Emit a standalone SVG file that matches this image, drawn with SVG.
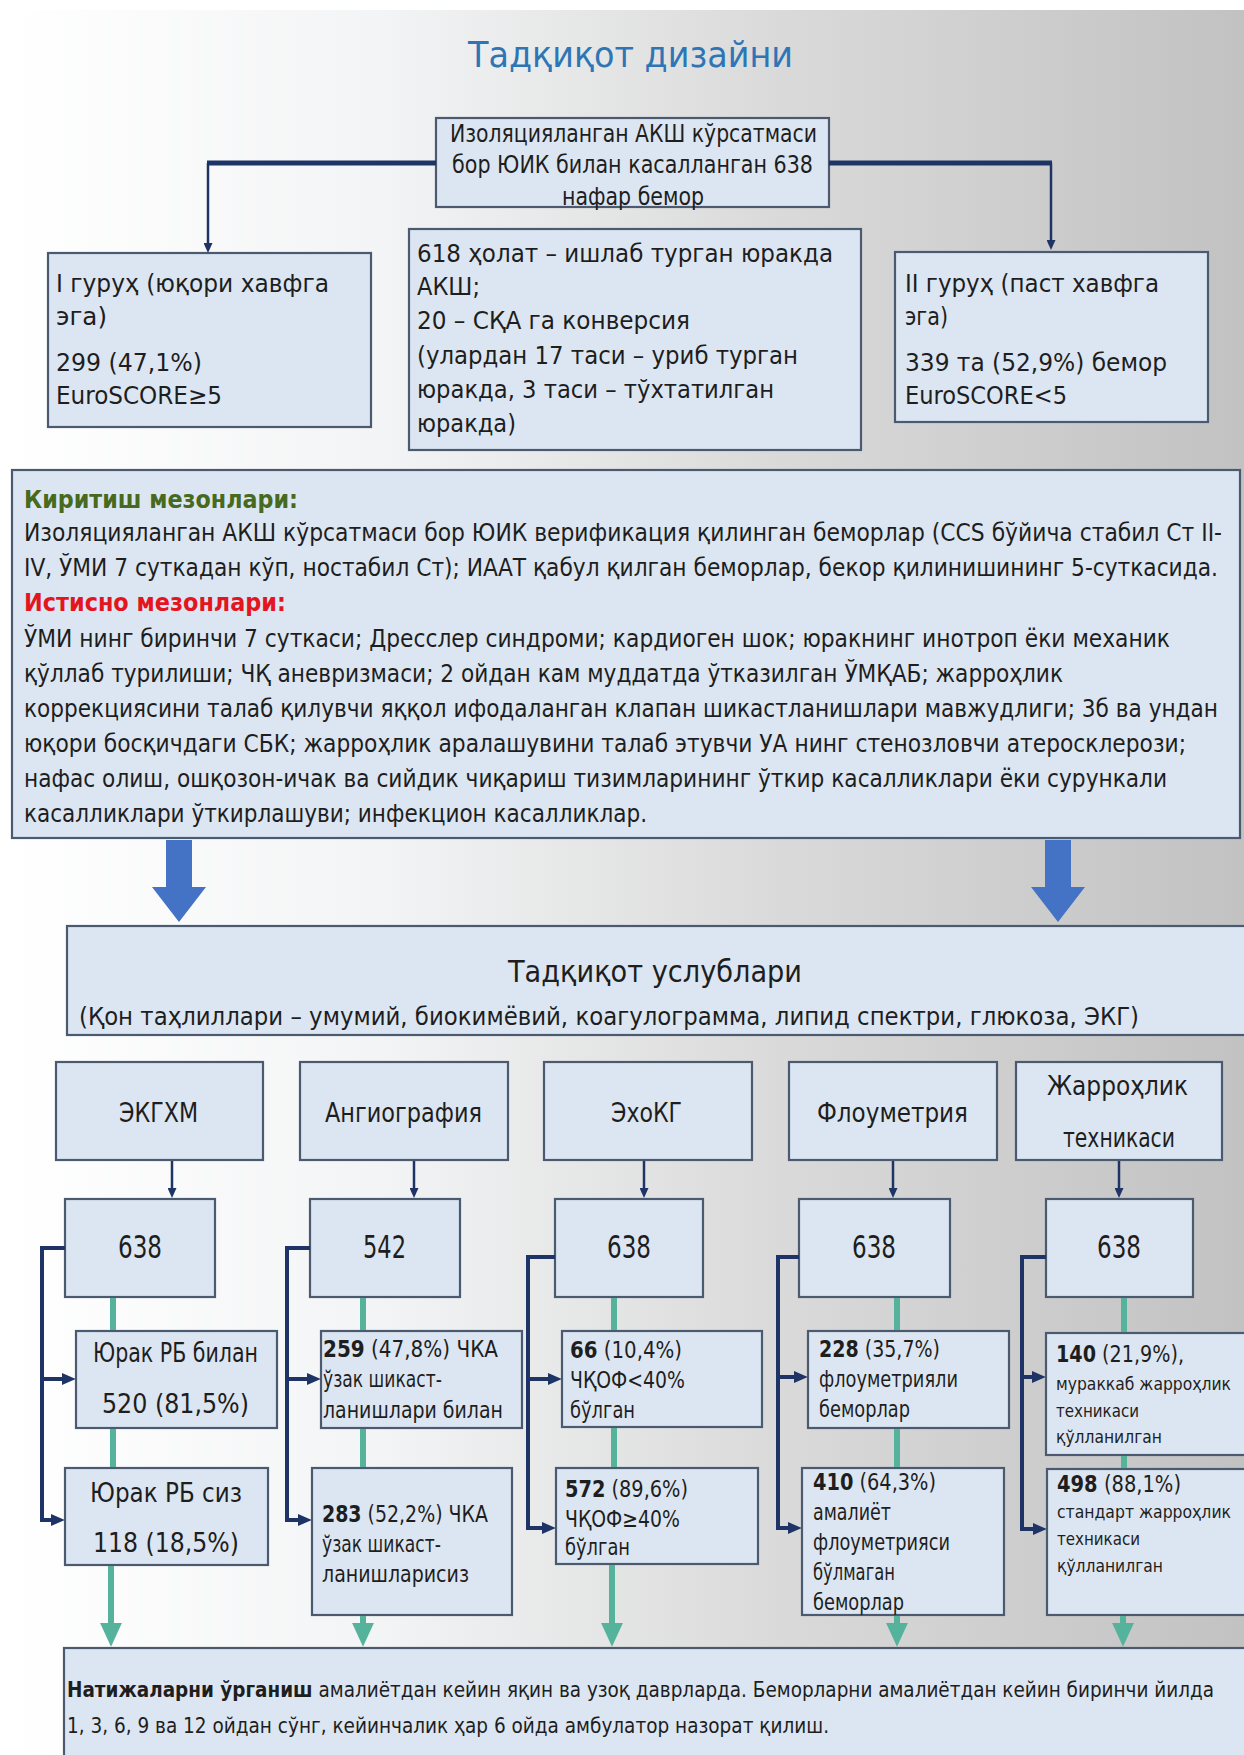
<svg xmlns="http://www.w3.org/2000/svg" width="1244" height="1755" viewBox="0 0 1244 1755">
<defs>
<linearGradient id="bg" x1="0" y1="0" x2="1" y2="0">
<stop offset="0" stop-color="#ffffff"/>
<stop offset="0.3" stop-color="#f3f4f5"/>
<stop offset="0.62" stop-color="#dadada"/>
<stop offset="1" stop-color="#c2c2c2"/>
</linearGradient>
<marker id="nv" viewBox="0 0 10 10" refX="3" refY="5" markerWidth="14" markerHeight="12" markerUnits="userSpaceOnUse" orient="auto" preserveAspectRatio="none"><path d="M0,0 L10,5 L0,10 z" fill="#1f3466"/></marker>
<marker id="ns" viewBox="0 0 10 10" refX="3" refY="5" markerWidth="10" markerHeight="9" markerUnits="userSpaceOnUse" orient="auto" preserveAspectRatio="none"><path d="M0,0 L10,5 L0,10 z" fill="#1f3466"/></marker>
<marker id="tl" viewBox="0 0 10 10" refX="3" refY="5" markerWidth="24" markerHeight="22" markerUnits="userSpaceOnUse" orient="auto" preserveAspectRatio="none"><path d="M0,0 L10,5 L0,10 z" fill="#55b39c"/></marker>
<style>
text{font-family:"DejaVu Sans Condensed","DejaVu Sans","Liberation Sans",sans-serif;fill:#1e1e1e;}
.box{fill:#dce6f2;stroke:#4b5a70;stroke-width:2.2;}
.t24{font-size:24px;}
.t23{font-size:23px;}
.t22{font-size:22px;}
.t21{font-size:21px;}
.t26{font-size:26px;}
.t18{font-size:18px;}
.num{font-size:32px;}
.b{font-weight:bold;}
.navy{fill:none;stroke:#1f3466;stroke-width:4;}
.navyT{fill:none;stroke:#1f3466;stroke-width:2.5;}
.teal{fill:none;stroke:#55b39c;stroke-width:6;}
.blue{fill:#4472c4;}
</style>
</defs>
<rect x="0" y="0" width="1244" height="1755" fill="#ffffff"/>
<rect x="8" y="10" width="1236" height="1745" fill="url(#bg)"/>

<g id="title">
<text x="468" y="67" textLength="325" lengthAdjust="spacingAndGlyphs" style="font-size:36px;fill:#2e75b6;">Тадқиқот дизайни</text>
</g>

<g id="node-patients">
<rect class="box" x="436" y="118" width="393" height="89"/>
<text class="t24" x="450" y="142" textLength="367" lengthAdjust="spacingAndGlyphs">Изоляцияланган АКШ кўрсатмаси</text>
<text class="t24" x="452" y="173" textLength="361" lengthAdjust="spacingAndGlyphs">бор ЮИК билан касалланган 638</text>
<text class="t24" x="562" y="205" textLength="142" lengthAdjust="spacingAndGlyphs">нафар бемор</text>
</g>

<g id="node-group1">
<rect class="box" x="48" y="253" width="323" height="174"/>
<text class="t24" x="56" y="292" textLength="273" lengthAdjust="spacingAndGlyphs">I гуруҳ (юқори хавфга</text>
<text class="t24" x="56" y="325" textLength="51" lengthAdjust="spacingAndGlyphs">эга)</text>
<text class="t24" x="56" y="371" textLength="146" lengthAdjust="spacingAndGlyphs">299 (47,1%)</text>
<text class="t24" x="56" y="404" textLength="166" lengthAdjust="spacingAndGlyphs">EuroSCORE≥5</text>
</g>

<g id="node-conversion">
<rect class="box" x="409" y="229" width="452" height="221"/>
<text class="t24" x="417" y="262" textLength="416" lengthAdjust="spacingAndGlyphs">618 ҳолат – ишлаб турган юракда</text>
<text class="t24" x="417" y="295" textLength="63" lengthAdjust="spacingAndGlyphs">АКШ;</text>
<text class="t24" x="417" y="329" textLength="273" lengthAdjust="spacingAndGlyphs">20 – СҚА га конверсия</text>
<text class="t24" x="417" y="364" textLength="381" lengthAdjust="spacingAndGlyphs">(улардан 17 таси – уриб турган</text>
<text class="t24" x="417" y="398" textLength="357" lengthAdjust="spacingAndGlyphs">юракда, 3 таси – тўхтатилган</text>
<text class="t24" x="417" y="432" textLength="99" lengthAdjust="spacingAndGlyphs">юракда)</text>
</g>

<g id="node-group2">
<rect class="box" x="895" y="252" width="313" height="170"/>
<text class="t24" x="905" y="292" textLength="254" lengthAdjust="spacingAndGlyphs">II гуруҳ (паст хавфга</text>
<text class="t24" x="905" y="325" textLength="43" lengthAdjust="spacingAndGlyphs">эга)</text>
<text class="t24" x="905" y="371" textLength="262" lengthAdjust="spacingAndGlyphs">339 та (52,9%) бемор</text>
<text class="t24" x="905" y="404" textLength="162" lengthAdjust="spacingAndGlyphs">EuroSCORE&lt;5</text>
</g>

<g id="node-criteria">
<rect class="box" x="12" y="470" width="1228" height="368"/>
<text class="t24 b" x="24" y="508" textLength="274" lengthAdjust="spacingAndGlyphs" style="fill:#476a1f;">Киритиш мезонлари:</text>
<text class="t24" x="24" y="541" textLength="1198" lengthAdjust="spacingAndGlyphs">Изоляцияланган АКШ кўрсатмаси бор ЮИК верификация қилинган беморлар (CCS бўйича стабил Ст II-</text>
<text class="t24" x="24" y="576" textLength="1194" lengthAdjust="spacingAndGlyphs">IV, ЎМИ 7 суткадан кўп, ностабил Ст); ИААТ қабул қилган беморлар, бекор қилинишининг 5-суткасида.</text>
<text class="t24 b" x="24" y="611" textLength="262" lengthAdjust="spacingAndGlyphs" style="fill:#e3161f;">Истисно мезонлари:</text>
<text class="t24" x="24" y="647" textLength="1146" lengthAdjust="spacingAndGlyphs">ЎМИ нинг биринчи 7 суткаси; Дресслер синдроми; кардиоген шок; юракнинг инотроп ёки механик</text>
<text class="t24" x="24" y="682" textLength="1039" lengthAdjust="spacingAndGlyphs">қўллаб турилиши; ЧҚ аневризмаси; 2 ойдан кам муддатда ўтказилган ЎМҚАБ; жарроҳлик</text>
<text class="t24" x="24" y="717" textLength="1194" lengthAdjust="spacingAndGlyphs">коррекциясини талаб қилувчи яққол ифодаланган клапан шикастланишлари мавжудлиги; 3б ва ундан</text>
<text class="t24" x="24" y="752" textLength="1162" lengthAdjust="spacingAndGlyphs">юқори босқичдаги СБК; жарроҳлик аралашувини талаб этувчи УА нинг стенозловчи атеросклерози;</text>
<text class="t24" x="24" y="787" textLength="1143" lengthAdjust="spacingAndGlyphs">нафас олиш, ошқозон-ичак ва сийдик чиқариш тизимларининг ўткир касалликлари ёки сурункали</text>
<text class="t24" x="24" y="822" textLength="623" lengthAdjust="spacingAndGlyphs">касалликлари ўткирлашуви; инфекцион касалликлар.</text>
</g>

<g id="node-methods">
<rect class="box" x="67" y="926" width="1190" height="109"/>
<text x="508" y="982" textLength="294" lengthAdjust="spacingAndGlyphs" style="font-size:30px;">Тадқиқот услублари</text>
<text x="79" y="1025" textLength="1060" lengthAdjust="spacingAndGlyphs" style="font-size:25px;">(Қон таҳлиллари – умумий, биокимёвий, коагулограмма, липид спектри, глюкоза, ЭКГ)</text>
</g>

<g id="node-ekghm">
<rect class="box" x="56" y="1062" width="207" height="98"/>
<text class="t26" x="119" y="1122" textLength="79" lengthAdjust="spacingAndGlyphs">ЭКГХМ</text>
</g>
<g id="node-angio">
<rect class="box" x="300" y="1062" width="208" height="98"/>
<text class="t26" x="325" y="1122" textLength="157" lengthAdjust="spacingAndGlyphs">Ангиография</text>
</g>
<g id="node-echo">
<rect class="box" x="544" y="1062" width="208" height="98"/>
<text class="t26" x="611" y="1122" textLength="71" lengthAdjust="spacingAndGlyphs">ЭхоКГ</text>
</g>
<g id="node-flow">
<rect class="box" x="789" y="1062" width="208" height="98"/>
<text class="t26" x="817" y="1122" textLength="151" lengthAdjust="spacingAndGlyphs">Флоуметрия</text>
</g>
<g id="node-surg">
<rect class="box" x="1016" y="1062" width="206" height="98"/>
<text class="t26" x="1047" y="1095" textLength="141" lengthAdjust="spacingAndGlyphs">Жарроҳлик</text>
<text class="t26" x="1063" y="1147" textLength="112" lengthAdjust="spacingAndGlyphs">техникаси</text>
</g>

<g id="node-n1">
<rect class="box" x="65" y="1199" width="150" height="98"/>
<text class="num" x="118" y="1258" textLength="44" lengthAdjust="spacingAndGlyphs">638</text>
</g>
<g id="node-n2">
<rect class="box" x="310" y="1199" width="150" height="98"/>
<text class="num" x="363" y="1258" textLength="43" lengthAdjust="spacingAndGlyphs">542</text>
</g>
<g id="node-n3">
<rect class="box" x="555" y="1199" width="148" height="98"/>
<text class="num" x="607" y="1258" textLength="44" lengthAdjust="spacingAndGlyphs">638</text>
</g>
<g id="node-n4">
<rect class="box" x="799" y="1199" width="151" height="98"/>
<text class="num" x="852" y="1258" textLength="44" lengthAdjust="spacingAndGlyphs">638</text>
</g>
<g id="node-n5">
<rect class="box" x="1046" y="1199" width="147" height="98"/>
<text class="num" x="1097" y="1258" textLength="44" lengthAdjust="spacingAndGlyphs">638</text>
</g>

<g id="node-rb-with">
<rect class="box" x="76" y="1331" width="201" height="97"/>
<text class="t26" x="93" y="1362" textLength="165" lengthAdjust="spacingAndGlyphs">Юрак РБ билан</text>
<text class="t26" x="102" y="1413" textLength="147" lengthAdjust="spacingAndGlyphs">520 (81,5%)</text>
</g>
<g id="node-rb-without">
<rect class="box" x="65" y="1468" width="203" height="97"/>
<text class="t26" x="90" y="1502" textLength="152" lengthAdjust="spacingAndGlyphs">Юрак РБ сиз</text>
<text class="t26" x="93" y="1552" textLength="146" lengthAdjust="spacingAndGlyphs">118 (18,5%)</text>
</g>

<g id="node-259">
<rect class="box" x="321" y="1331" width="201" height="97"/>
<text class="t23" x="323" y="1357" textLength="175" lengthAdjust="spacingAndGlyphs"><tspan class="b">259</tspan> (47,8%) ЧКА</text>
<text class="t23" x="323" y="1387" textLength="119" lengthAdjust="spacingAndGlyphs">ўзак шикаст-</text>
<text class="t23" x="323" y="1418" textLength="180" lengthAdjust="spacingAndGlyphs">ланишлари билан</text>
</g>
<g id="node-283">
<rect class="box" x="312" y="1468" width="200" height="147"/>
<text class="t23" x="322" y="1522" textLength="166" lengthAdjust="spacingAndGlyphs"><tspan class="b">283</tspan> (52,2%) ЧКА</text>
<text class="t23" x="322" y="1552" textLength="119" lengthAdjust="spacingAndGlyphs">ўзак шикаст-</text>
<text class="t23" x="322" y="1582" textLength="147" lengthAdjust="spacingAndGlyphs">ланишларисиз</text>
</g>

<g id="node-66">
<rect class="box" x="562" y="1331" width="200" height="96"/>
<text class="t23" x="570" y="1358" textLength="112" lengthAdjust="spacingAndGlyphs"><tspan class="b">66</tspan> (10,4%)</text>
<text class="t23" x="570" y="1388" textLength="115" lengthAdjust="spacingAndGlyphs">ЧҚОФ&lt;40%</text>
<text class="t23" x="570" y="1418" textLength="65" lengthAdjust="spacingAndGlyphs">бўлган</text>
</g>
<g id="node-572">
<rect class="box" x="556" y="1468" width="202" height="96"/>
<text class="t23" x="565" y="1497" textLength="123" lengthAdjust="spacingAndGlyphs"><tspan class="b">572</tspan> (89,6%)</text>
<text class="t23" x="565" y="1527" textLength="115" lengthAdjust="spacingAndGlyphs">ЧҚОФ≥40%</text>
<text class="t23" x="565" y="1555" textLength="65" lengthAdjust="spacingAndGlyphs">бўлган</text>
</g>

<g id="node-228">
<rect class="box" x="808" y="1331" width="201" height="97"/>
<text class="t23" x="819" y="1357" textLength="121" lengthAdjust="spacingAndGlyphs"><tspan class="b">228</tspan> (35,7%)</text>
<text class="t23" x="819" y="1387" textLength="139" lengthAdjust="spacingAndGlyphs">флоуметрияли</text>
<text class="t23" x="819" y="1417" textLength="91" lengthAdjust="spacingAndGlyphs">беморлар</text>
</g>
<g id="node-410">
<rect class="box" x="802" y="1468" width="202" height="147"/>
<text class="t23" x="813" y="1490" textLength="123" lengthAdjust="spacingAndGlyphs"><tspan class="b">410</tspan> (64,3%)</text>
<text class="t23" x="813" y="1520" textLength="78" lengthAdjust="spacingAndGlyphs">амалиёт</text>
<text class="t23" x="813" y="1550" textLength="137" lengthAdjust="spacingAndGlyphs">флоуметрияси</text>
<text class="t23" x="813" y="1580" textLength="82" lengthAdjust="spacingAndGlyphs">бўлмаган</text>
<text class="t23" x="813" y="1610" textLength="91" lengthAdjust="spacingAndGlyphs">беморлар</text>
</g>

<g id="node-140">
<rect class="box" x="1046" y="1333" width="200" height="122"/>
<text class="t23" x="1056" y="1362" textLength="128" lengthAdjust="spacingAndGlyphs"><tspan class="b">140</tspan> (21,9%),</text>
<text class="t18" x="1056" y="1390" textLength="175" lengthAdjust="spacingAndGlyphs">мураккаб жарроҳлик</text>
<text class="t18" x="1056" y="1417" textLength="83" lengthAdjust="spacingAndGlyphs">техникаси</text>
<text class="t18" x="1056" y="1443" textLength="106" lengthAdjust="spacingAndGlyphs">қўлланилган</text>
</g>
<g id="node-498">
<rect class="box" x="1047" y="1469" width="200" height="146"/>
<text class="t23" x="1057" y="1492" textLength="124" lengthAdjust="spacingAndGlyphs"><tspan class="b">498</tspan> (88,1%)</text>
<text class="t18" x="1057" y="1518" textLength="174" lengthAdjust="spacingAndGlyphs">стандарт жарроҳлик</text>
<text class="t18" x="1057" y="1545" textLength="83" lengthAdjust="spacingAndGlyphs">техникаси</text>
<text class="t18" x="1057" y="1572" textLength="106" lengthAdjust="spacingAndGlyphs">қўлланилган</text>
</g>

<g id="node-results">
<rect class="box" x="64" y="1648" width="1190" height="120"/>
<text class="t21" x="67" y="1697" textLength="1147" lengthAdjust="spacingAndGlyphs"><tspan class="b">Натижаларни ўрганиш</tspan> амалиётдан кейин яқин ва узоқ даврларда. Беморларни амалиётдан кейин биринчи йилда</text>
<text class="t21" x="67" y="1733" textLength="762" lengthAdjust="spacingAndGlyphs">1, 3, 6, 9 ва 12 ойдан сўнг, кейинчалик ҳар 6 ойда амбулатор назорат қилиш.</text>
</g>

<g id="connectors">
<path d="M436,163 H207" fill="none" stroke="#1f3466" stroke-width="5"/>
<path d="M829,163 H1052" fill="none" stroke="#1f3466" stroke-width="5"/>
<path class="navyT" d="M208,163 V246" marker-end="url(#ns)"/>
<path class="navyT" d="M1051,163 V243" marker-end="url(#ns)"/>
<path class="blue" d="M166,840 H192 V887 H206 L179,922 L152,887 H166 Z"/>
<path class="blue" d="M1045,840 H1071 V887 H1085 L1058,922 L1031,887 H1045 Z"/>
<path class="navyT" d="M172,1161 V1191" marker-end="url(#ns)"/>
<path class="navyT" d="M414,1161 V1191" marker-end="url(#ns)"/>
<path class="navyT" d="M644,1161 V1191" marker-end="url(#ns)"/>
<path class="navyT" d="M893,1161 V1191" marker-end="url(#ns)"/>
<path class="navyT" d="M1119,1161 V1191" marker-end="url(#ns)"/>
<path class="navy" d="M65,1248 H42 V1520 H55" marker-end="url(#nv)"/>
<path class="navy" d="M42,1379 H66" marker-end="url(#nv)"/>
<path class="navy" d="M310,1248 H287 V1520 H302" marker-end="url(#nv)"/>
<path class="navy" d="M287,1379 H311" marker-end="url(#nv)"/>
<path class="navy" d="M555,1257 H528 V1528 H546" marker-end="url(#nv)"/>
<path class="navy" d="M528,1379 H552" marker-end="url(#nv)"/>
<path class="navy" d="M799,1257 H778 V1528 H792" marker-end="url(#nv)"/>
<path class="navy" d="M778,1377 H798" marker-end="url(#nv)"/>
<path class="navy" d="M1046,1257 H1022 V1529 H1037" marker-end="url(#nv)"/>
<path class="navy" d="M1022,1377 H1036" marker-end="url(#nv)"/>
<path class="teal" d="M113,1298 V1330 M113,1429 V1467"/>
<path class="teal" d="M363,1298 V1330 M363,1429 V1467"/>
<path class="teal" d="M614,1298 V1330 M614,1428 V1467"/>
<path class="teal" d="M897,1298 V1330 M897,1429 V1467"/>
<path class="teal" d="M1124,1298 V1332 M1124,1456 V1468"/>
<path class="teal" d="M111,1566 V1630" marker-end="url(#tl)"/>
<path class="teal" d="M363,1616 V1630" marker-end="url(#tl)"/>
<path class="teal" d="M612,1565 V1630" marker-end="url(#tl)"/>
<path class="teal" d="M897,1616 V1630" marker-end="url(#tl)"/>
<path class="teal" d="M1123,1616 V1630" marker-end="url(#tl)"/>
</g>
</svg>
